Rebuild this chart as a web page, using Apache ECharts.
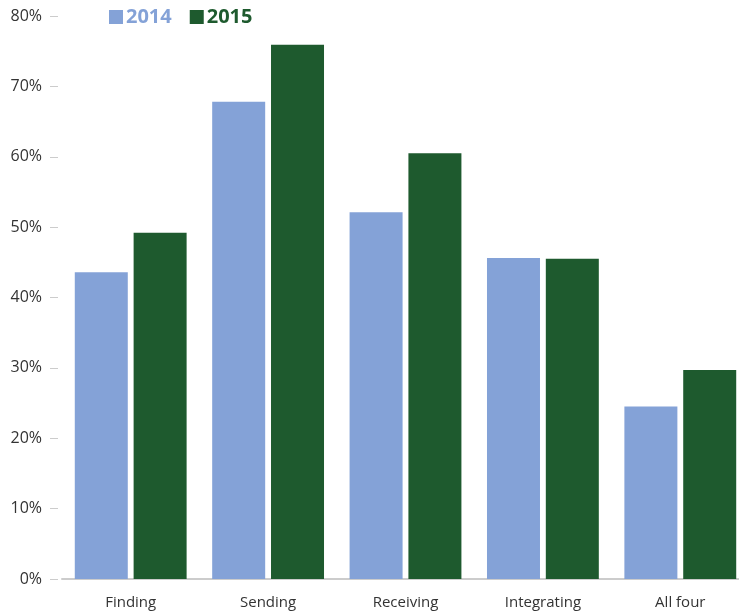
<!DOCTYPE html>
<html>
<head>
<meta charset="utf-8">
<script src="https://cdn.jsdelivr.net/npm/echarts@6/dist/echarts.min.js"></script>
<style>
  html, body { margin: 0; padding: 0; background: #fff; }
  #chart { width: 739px; height: 616px; }
</style>
</head>
<body>
<div id="chart"></div>
<script>
const categories = ["Finding", "Sending", "Receiving", "Integrating", "All four"];
const values2014 = [43.6, 67.8, 52.1, 45.6, 24.5];
const values2015 = [49.2, 75.9, 60.5, 45.5, 29.7];

const blue = "#84a2d7";
const green = "#1e5a2e";

const myChart = echarts.init(document.getElementById("chart"));
const option = {
  animation: false,
  textStyle: { fontFamily: "Open Sans" },
  legend: {
    left: 104,
    top: 2,
    icon: "rect",
    itemWidth: 14,
    itemHeight: 14,
    itemGap: 18,
    textStyle: { fontSize: 20, fontWeight: "bold", fontFamily: "Open Sans", padding: [0, 0, 0, -2] },
    data: [
      { name: "2014", textStyle: { color: blue } },
      { name: "2015", textStyle: { color: green } },
    ],
  },
  grid: {
    left: 62,
    top: 16,
    bottom: 37,
    width: 687,
    containLabel: false,
    outerBoundsMode: "none",
  },
  xAxis: {
    type: "category",
    data: categories,
    axisTick: { show: false },
    axisLine: { lineStyle: { color: "#cccccc", width: 2 } },
    axisLabel: { color: "#333", fontSize: 15, margin: 16 },
  },
  yAxis: {
    type: "value",
    min: 0,
    max: 80,
    interval: 10,
    offset: 4,
    axisLine: { show: false },
    axisTick: { show: true, length: 8, lineStyle: { color: "#cccccc" } },
    splitLine: { show: false },
    axisLabel: { color: "#333", fontSize: 16, margin: 16, formatter: "{value}%" },
  },
  series: [
    {
      name: "2014",
      type: "bar",
      data: values2014,
      barWidth: 53,
      barGap: "11%",
      itemStyle: { color: blue },
    },
    {
      name: "2015",
      type: "bar",
      data: values2015,
      barWidth: 53,
      itemStyle: { color: green },
    },
  ],
};
myChart.setOption(option, true);
</script>
</body>
</html>
